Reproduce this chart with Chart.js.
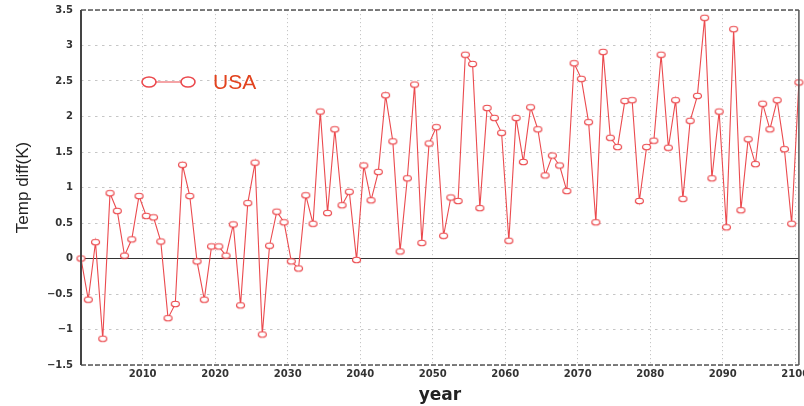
<!DOCTYPE html>
<html>
<head>
<meta charset="utf-8">
<script src="https://cdn.jsdelivr.net/npm/chart.js@4.4.1/dist/chart.umd.min.js"></script>
<style>
  html, body { margin: 0; padding: 0; background: #ffffff; }
  #wrap { width: 804px; height: 406px; position: relative; }
</style>
</head>
<body>
<div id="wrap"><canvas id="c" width="804" height="406"></canvas></div>
<script>
// ---- data ----
const years = [];
for (let y = 2001; y <= 2100; y++) years.push(y);

const usaTempDiff = [
  0.00, -0.58, 0.23, -1.13, 0.92, 0.67, 0.04, 0.27, 0.88, 0.60,
  0.58, 0.24, -0.84, -0.64, 1.32, 0.88, -0.04, -0.58, 0.17, 0.17,
  0.04, 0.48, -0.66, 0.78, 1.35, -1.07, 0.18, 0.66, 0.51, -0.04,
  -0.14, 0.89, 0.49, 2.07, 0.64, 1.82, 0.75, 0.94, -0.02, 1.31,
  0.82, 1.22, 2.30, 1.65, 0.10, 1.13, 2.45, 0.22, 1.62, 1.85,
  0.32, 0.86, 0.81, 2.87, 2.74, 0.71, 2.12, 1.98, 1.77, 0.25,
  1.98, 1.36, 2.13, 1.82, 1.17, 1.45, 1.31, 0.95, 2.75, 2.53,
  1.92, 0.51, 2.91, 1.70, 1.57, 2.22, 2.23, 0.81, 1.57, 1.66,
  2.87, 1.56, 2.23, 0.84, 1.94, 2.29, 3.39, 1.13, 2.07, 0.44,
  3.23, 0.68, 1.68, 1.33, 2.18, 1.82, 2.23, 1.54, 0.49, 2.48
];

const xTicks = [2010, 2020, 2030, 2040, 2050, 2060, 2070, 2080, 2090, 2100];
const yTicks = [-1.5, -1, -0.5, 0, 0.5, 1, 1.5, 2, 2.5, 3, 3.5];
const seriesName = 'USA';

// annual means plotted at mid-year
const points = years.map((yr, i) => ({ x: yr + 0.5, y: usaTempDiff[i] }));

// ---- styles ----
const RED = '#eb4a4e';
function ellipseMarker(w, h, lw, color) {
  const c = document.createElement('canvas');
  c.width = Math.ceil(w + lw * 2 + 2);
  c.height = Math.ceil(h + lw * 2 + 2);
  const g = c.getContext('2d');
  g.beginPath();
  g.ellipse(c.width / 2, c.height / 2, w / 2, h / 2, 0, 0, Math.PI * 2);
  g.fillStyle = '#ffffff';
  g.fill();
  g.lineWidth = lw;
  g.strokeStyle = color;
  g.stroke();
  return c;
}
const marker = ellipseMarker(8, 5.5, 1.2, RED);

const deco = {
  id: 'deco',
  beforeDatasetsDraw(chart) {
    const { ctx, chartArea: a, scales: { y } } = chart;
    const y0 = y.getPixelForValue(0);
    ctx.save();
    ctx.strokeStyle = '#333333';
    ctx.lineWidth = 1.2;
    ctx.beginPath();
    ctx.moveTo(a.left, y0);
    ctx.lineTo(a.right, y0);
    ctx.stroke();
    ctx.restore();
  },
  afterDraw(chart) {
    const { ctx, chartArea: a } = chart;
    ctx.save();
    // frame: dashed top & bottom, solid left & right
    ctx.strokeStyle = '#555555';
    ctx.lineWidth = 1.6;
    ctx.setLineDash([5, 2]);
    ctx.beginPath();
    ctx.moveTo(a.left, a.top); ctx.lineTo(a.right, a.top);
    ctx.moveTo(a.left, a.bottom); ctx.lineTo(a.right, a.bottom);
    ctx.stroke();
    ctx.setLineDash([]);
    ctx.strokeStyle = '#444444';
    ctx.lineWidth = 2;
    ctx.beginPath();
    ctx.moveTo(a.left, a.top); ctx.lineTo(a.left, a.bottom);
    ctx.stroke();
    ctx.lineWidth = 1.5;
    ctx.strokeStyle = '#555555';
    ctx.beginPath();
    ctx.moveTo(a.right, a.top); ctx.lineTo(a.right, a.bottom);
    ctx.stroke();

    // legend
    const lx1 = a.left + 68, lx2 = a.left + 107, ly = a.top + 72;
    ctx.strokeStyle = RED;
    ctx.lineWidth = 1.2;
    ctx.beginPath();
    ctx.moveTo(lx1, ly); ctx.lineTo(lx2, ly);
    ctx.stroke();
    [lx1, lx2].forEach(x => {
      ctx.beginPath();
      ctx.ellipse(x, ly, 7, 5, 0, 0, Math.PI * 2);
      ctx.fillStyle = '#ffffff';
      ctx.fill();
      ctx.lineWidth = 1.6;
      ctx.stroke();
    });
    ctx.fillStyle = '#e2431e';
    ctx.font = '21px "Liberation Sans", Arial, sans-serif';
    ctx.textBaseline = 'middle';
    ctx.textAlign = 'left';
    ctx.fillText(seriesName, a.left + 132, ly + 1);
    ctx.restore();
  }
};

const tickFont = { family: 'DejaVu Sans', size: 10, weight: 'bold' };

new Chart(document.getElementById('c'), {
  type: 'line',
  data: {
    datasets: [{
      label: seriesName,
      data: points,
      borderColor: RED,
      borderWidth: 1.1,
      backgroundColor: '#ffffff',
      pointStyle: marker,
      pointRadius: 4,
      tension: 0,
      clip: false
    }]
  },
  options: {
    responsive: false,
    animation: false,
    events: [],
    layout: { padding: { top: 10, right: 5, bottom: 0, left: 0 } },
    plugins: { legend: { display: false }, tooltip: { enabled: false } },
    scales: {
      x: {
        type: 'linear',
        min: years[0] + 0.5,
        max: years[years.length - 1] + 0.5,
        afterBuildTicks: s => { s.ticks = xTicks.map(v => ({ value: v })); },
        afterFit: s => { s.height = 41; s.paddingLeft = 0; s.paddingRight = 0; },
        grid: { color: '#c6c6c6', lineWidth: 1, drawTicks: false },
        border: { display: false, dash: [1.2, 2.8] },
        ticks: {
          padding: 3, color: '#333333', font: tickFont,
          maxRotation: 0, autoSkip: false,
          callback: v => String(v)
        },
        title: {
          display: true, text: 'year', color: '#222222',
          font: { family: 'DejaVu Sans', size: 17, weight: 'bold' },
          padding: { top: 1, bottom: 0 }
        }
      },
      y: {
        min: -1.5,
        max: 3.5,
        afterBuildTicks: s => { s.ticks = yTicks.map(v => ({ value: v })); },
        afterFit: s => { s.width = 81; s.paddingTop = 0; s.paddingBottom = 0; },
        grid: { color: '#c6c6c6', lineWidth: 1, drawTicks: false },
        border: { display: false, dash: [2.5, 4.5] },
        ticks: {
          padding: 8, color: '#333333', font: tickFont,
          callback: v => (v < 0 ? '\u2212' + Math.abs(v) : String(v))
        },
        title: {
          display: true, text: 'Temp diff(K)', color: '#222222',
          font: { family: '"Liberation Sans", Arial, sans-serif', size: 17 },
          padding: { top: 13, bottom: 0 }
        }
      }
    }
  },
  plugins: [deco]
});
</script>
</body>
</html>
